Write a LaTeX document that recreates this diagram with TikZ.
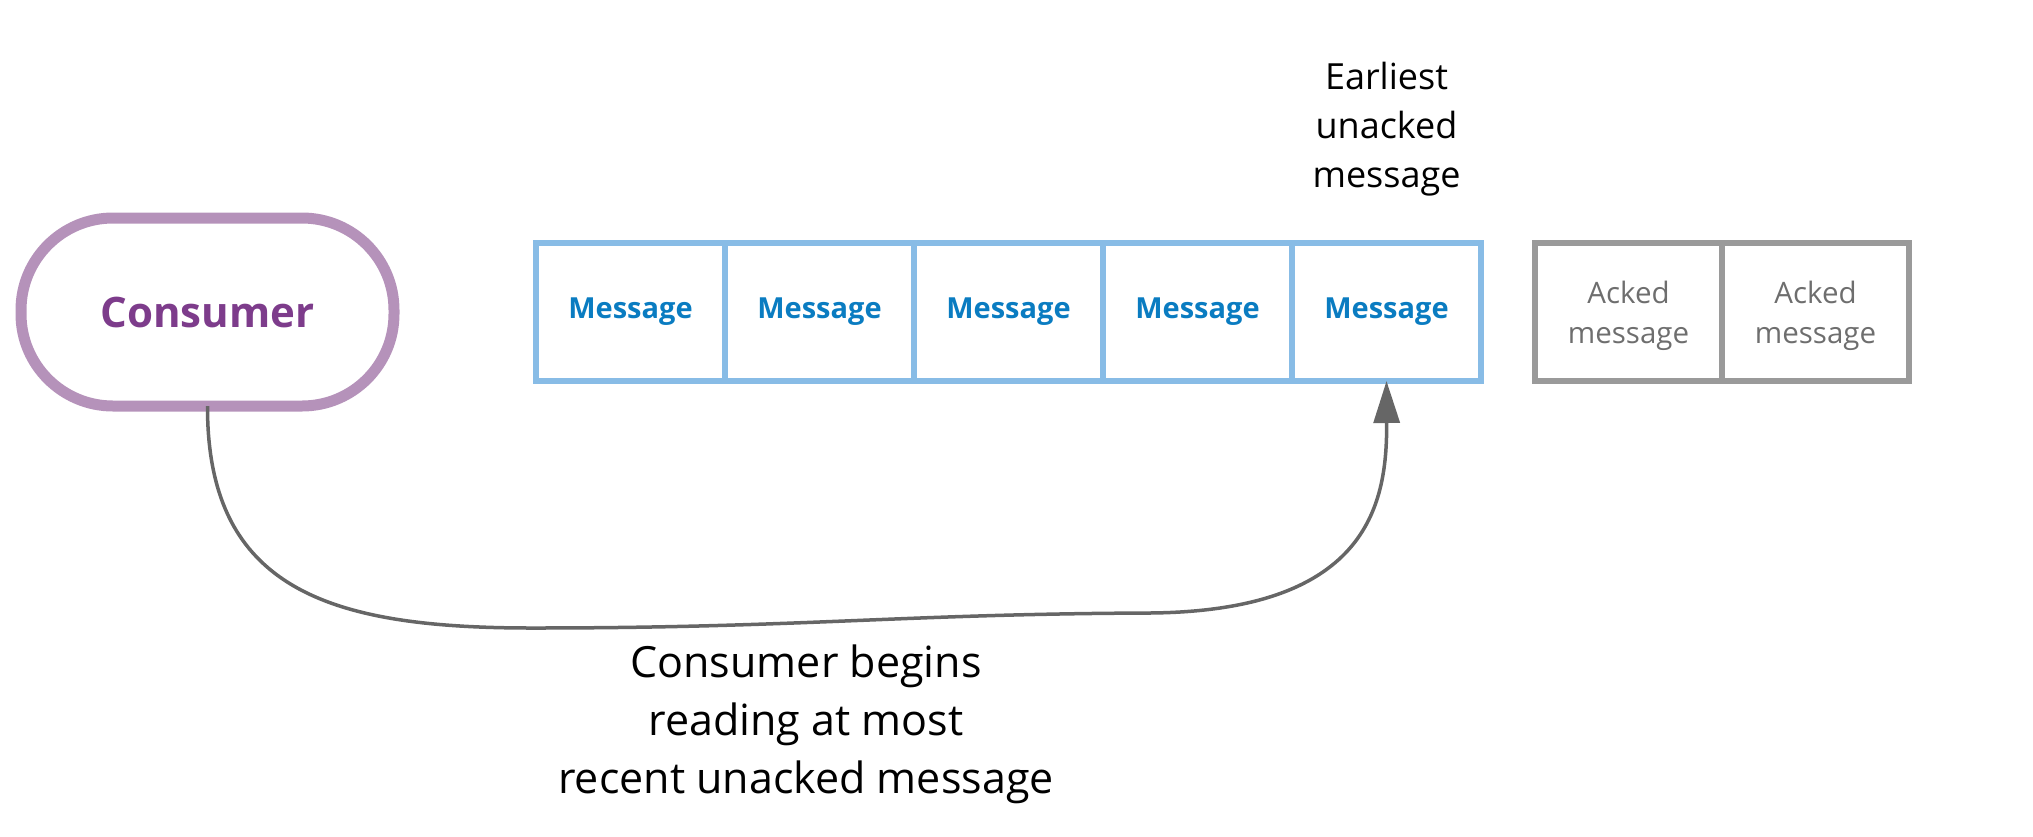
\documentclass[tikz,border=0pt]{standalone}
\usepackage{fontspec}
\setmainfont{Open Sans}
\usetikzlibrary{positioning,arrows.meta}

\definecolor{consline}{HTML}{B592BA}
\definecolor{constext}{HTML}{7D3C8B}
\definecolor{msgline}{HTML}{88BCE6}
\definecolor{msgtext}{HTML}{0A7CC1}
\definecolor{ackline}{HTML}{9A9A9A}
\definecolor{acktext}{HTML}{6E6E6E}
\definecolor{arrowgray}{HTML}{666666}

\tikzset{
  consumer/.style={draw=consline, line width=11pt, rounded corners=92pt,
    minimum width=373pt, minimum height=188pt, inner sep=0pt, outer sep=0pt,
    text=constext, font=\fontsize{42}{50}\selectfont\bfseries},
  msgbox/.style={draw=msgline, line width=6pt, minimum width=189pt,
    minimum height=138pt, inner sep=0pt, outer sep=0pt,
    text=msgtext, font=\fontsize{29}{36}\selectfont\bfseries},
  ackbox/.style={draw=ackline, line width=6pt, minimum width=187pt,
    minimum height=138pt, inner sep=0pt, outer sep=0pt, align=center,
    text depth=0pt, text=acktext, font=\fontsize{29.5}{40}\selectfont},
  note/.style={align=center, inner sep=0pt, text=black},
}

\begin{document}
\begin{tikzpicture}[x=1pt, y=-1pt]
  \useasboundingbox (0,0) rectangle (2033,836);

  %consumer
  \node[consumer] (cons) at (207.5,312) {Consumer};

  %unacked messages
  \node[msgbox] (msg1) at (630.5,312) {Message};
  \foreach \i [remember=\i as \j (initially 1)] in {2,...,5}
    \node[msgbox, right=0pt of msg\j] (msg\i) {Message};

  %acked messages
  \node[ackbox, right=54pt of msg5] (ack1) {Acked\\message};
  \node[ackbox, right=0pt of ack1] (ack2) {Acked\\message};

  %label above
  \node[note, above=47pt of msg5, font=\fontsize{36}{49}\selectfont] (earliest)
    {Earliest\\unacked\\message};

  %draw curve
  \draw[arrowgray, line width=3.5pt, -{Triangle[length=42pt,width=26pt]}]
    (cons.south) .. controls (207,590) and (330,628) .. (532,628)
    .. controls (800,628) and (900,614) .. (1150,613)
    .. controls (1372,611) and (1387,500) .. (msg5.south);

  %label below
  \node[note, font=\fontsize{43}{58}\selectfont] (reading) at (806,724)
    {Consumer begins\\reading at most\\recent unacked message};
\end{tikzpicture}
\end{document}
